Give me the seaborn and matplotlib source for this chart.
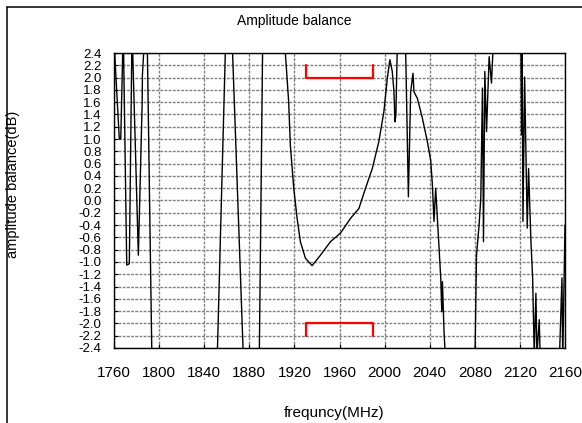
import matplotlib
matplotlib.use("Agg")
import matplotlib.pyplot as plt
import numpy as np
import pandas as pd
import seaborn as sns
from matplotlib.lines import Line2D

# measured amplitude balance trace (dB) vs frequency (MHz); values beyond +-2.4 are off-scale
freq_mhz = [
    1760.0, 1764.7, 1766.0, 1768.2, 1771.3, 1773.6, 1776.0, 1781.6, 1785.0, 1785.2,
    1787.5, 1789.3, 1793.8, 1851.2, 1859.3, 1864.4, 1875.2, 1888.7, 1892.0, 1910.5,
    1914.9, 1916.4, 1919.4, 1922.4, 1925.3, 1929.8, 1935.7, 1943.1, 1952.0, 1960.9,
    1969.8, 1977.2, 1983.1, 1989.1, 1994.9, 1999.4, 2002.4, 2004.7, 2006.8, 2008.3,
    2009.2, 2010.0, 2011.6, 2018.3, 2021.1, 2023.1, 2025.2, 2026.0, 2029.1, 2033.5,
    2037.9, 2040.9, 2042.4, 2043.8, 2045.3, 2049.8, 2050.7, 2051.3, 2052.7, 2054.6,
    2080.0, 2080.3, 2081.5, 2083.8, 2085.3, 2086.8, 2087.7, 2088.9, 2090.4, 2092.7,
    2094.8, 2097.0, 2120.5, 2120.9, 2121.5, 2122.0, 2122.7, 2124.2, 2126.5, 2127.7,
    2129.8, 2131.3, 2132.7, 2134.2, 2135.1, 2137.2, 2138.0, 2150.0, 2155.0, 2157.3,
    2158.0, 2160.0,
]
balance_db = [
    2.6, 1.0, 1.0, 2.8, -1.05, -1.03, 2.8, -0.89, 1.6, 2.04,
    2.8, 2.8, -2.8, -2.8, 2.8, 2.8, -2.8, -2.8, 2.8, 2.8,
    1.61, 0.90, 0.20, -0.29, -0.67, -0.94, -1.06, -0.89, -0.67, -0.53,
    -0.29, -0.13, 0.20, 0.52, 0.96, 1.45, 1.99, 2.29, 2.10, 1.77,
    1.28, 1.39, 2.8, 2.8, 0.06, 1.77, 2.07, 1.77, 1.66, 1.34,
    0.96, 0.65, 0.25, -0.34, 0.20, -1.26, -1.81, -1.32, -2.13, -2.8,
    -2.8, -2.4, -0.89, -0.40, 0.04, 1.83, -0.67, 2.10, 1.12, 2.34,
    1.91, 2.8, 2.8, 2.6, 1.07, 2.6, -0.34, 2.01, -0.45, 0.52,
    -0.67, -1.26, -2.5, -1.51, -2.5, -1.94, -2.6, -2.8, -2.6, -1.26,
    -2.6, -0.4,
]

# red spec brackets (1930-1990 MHz)
spec_x = [1930, 1990]
spec_hi = [2.0, 2.2]
spec_lo = [-2.0, -2.2]

x_ticks = list(range(1760, 2161, 40))
y_ticks = np.round(np.arange(-2.4, 2.41, 0.2), 1)

df = pd.DataFrame({"freq": freq_mhz, "bal": balance_db})

sns.set_theme(style="white")
plt.rcParams["font.family"] = ["Liberation Sans", "DejaVu Sans"]
plt.rcParams["text.color"] = "black"

fig = plt.figure(figsize=(5.82, 4.23), dpi=100)
ax = fig.add_axes([114 / 582, 1 - 348 / 423, 451 / 582, 295 / 423])

sns.lineplot(data=df, x="freq", y="bal", sort=False, estimator=None,
             color="black", linewidth=1.0, ax=ax)

# brackets
for y_bar, y_leg in [(spec_hi[0], spec_hi[1]), (spec_lo[0], spec_lo[1])]:
    ax.plot([spec_x[0], spec_x[0], spec_x[1], spec_x[1]],
            [y_leg, y_bar, y_bar, y_leg], color="#ff0000", linewidth=1.6)

ax.set_xlim(1760, 2160)
ax.set_ylim(-2.4, 2.4)
ax.set_xticks(x_ticks)
ax.set_yticks(y_ticks)
ax.set_yticklabels([f"{v:.1f}" for v in y_ticks])
ax.grid(True, color="0.5", linestyle=(0, (2, 1)), linewidth=1.0)
ax.set_axisbelow(True)
ax.tick_params(axis="x", direction="in", length=3, width=0.8, pad=13,
               labelsize=11, colors="black", bottom=True)
ax.tick_params(axis="y", direction="in", length=3, width=0.8, pad=9,
               labelsize=9.5, colors="black", left=True)
for sp in ax.spines.values():
    sp.set_color("black")
    sp.set_linewidth(1.0)
ax.set_xlabel("")
ax.set_ylabel("")

fig.text(294 / 582, 1 - 21 / 423, "Amplitude balance", ha="center", va="center",
         fontsize=10, color="black")
fig.text(334 / 582, 1 - 413 / 423, "frequncy(MHz)", ha="center", va="center",
         fontsize=11, color="black")
fig.text(13 / 582, 1 - 184 / 423, "amplitude balance(dB)", ha="center", va="center",
         rotation=90, fontsize=10.5, color="black")

# outer frame (top and left visible)
fig.add_artist(Line2D([7 / 582, 1.0], [1 - 7 / 423, 1 - 7 / 423], color="black", linewidth=1.1))
fig.add_artist(Line2D([7 / 582, 7 / 582], [0.0, 1 - 7 / 423], color="black", linewidth=1.1))

fig.savefig("out.png", dpi=100)
